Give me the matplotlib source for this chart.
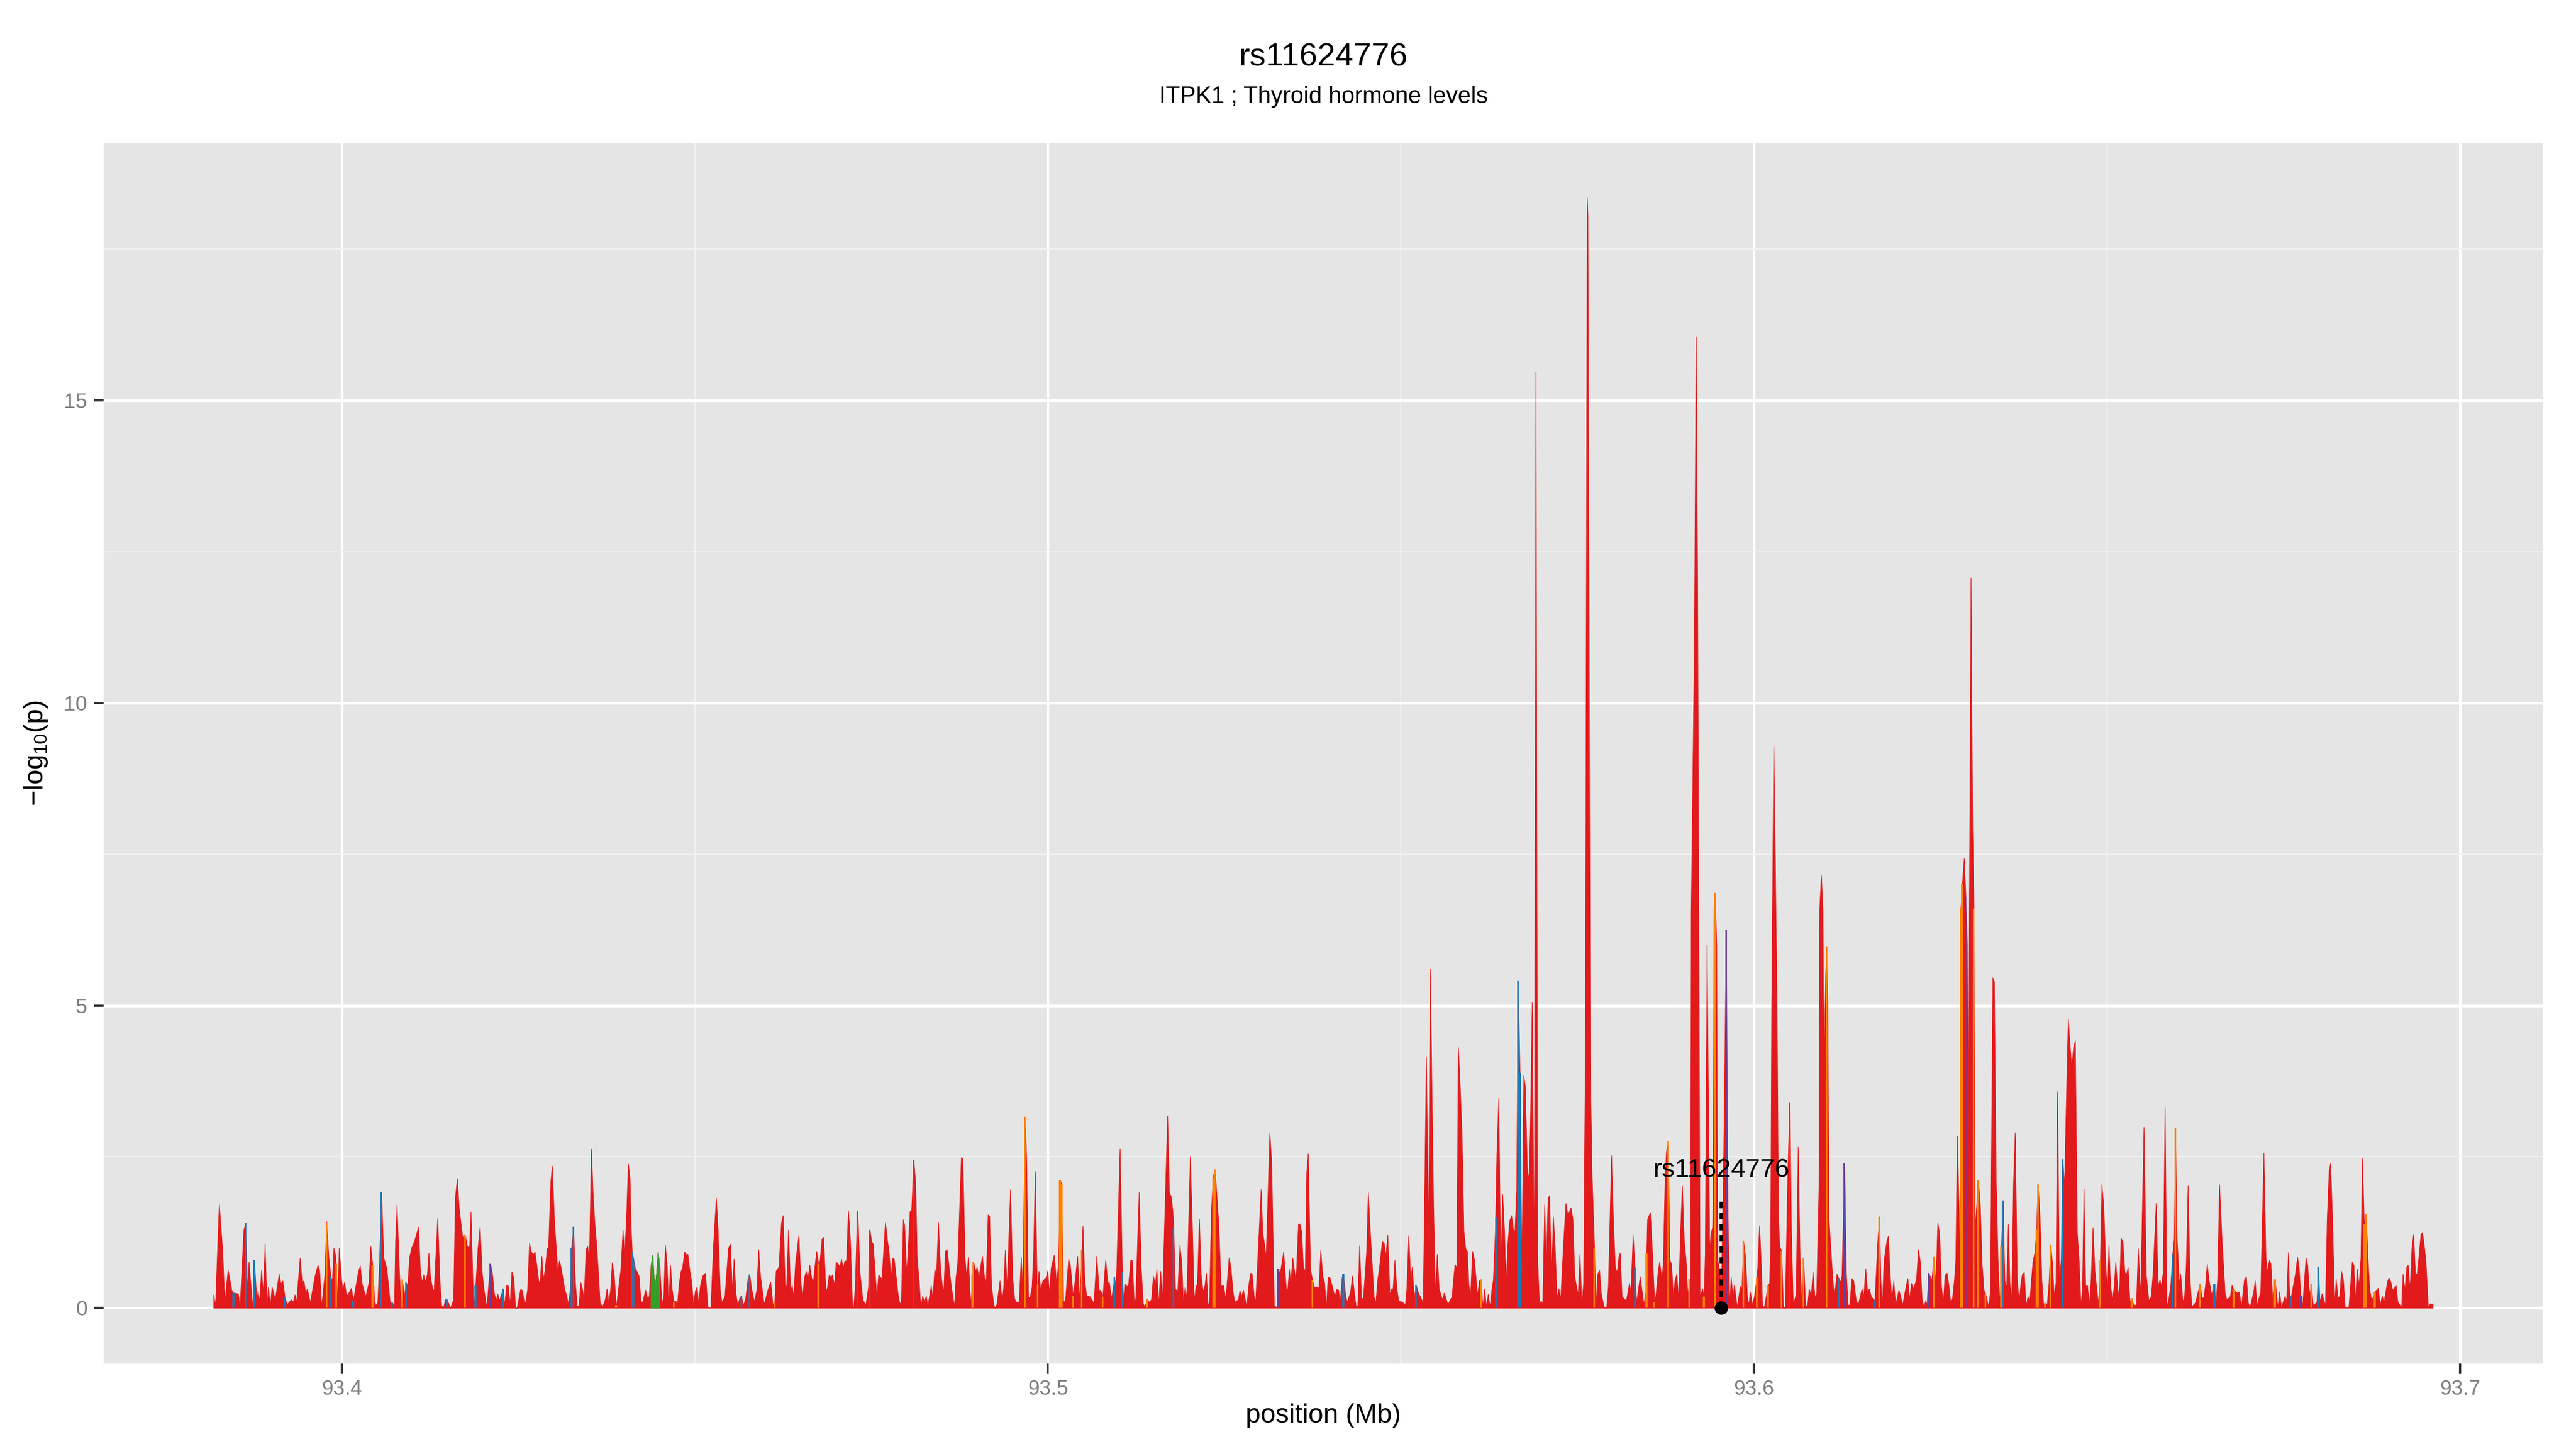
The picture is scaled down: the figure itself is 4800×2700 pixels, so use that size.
import numpy as np
import matplotlib.pyplot as plt

plt.rcParams['font.family'] = ['Liberation Sans', 'DejaVu Sans']
plt.rcParams['mathtext.default'] = 'regular'

# (position in Mb, -log10 p), left to right
red_a = [(93.38182,0.22),(93.38208,0.04),(93.38261,1.72),(93.38308,0.96),(93.38339,0.10),(93.38386,0.63),(93.38439,0.29),(93.38465,0.25),(93.38530,0.24),(93.38556,0.02),(93.38609,1.29),(93.38635,1.40),(93.38661,0.29),(93.38682,0.76),(93.38735,0.00),(93.38758,0.79),(93.38792,0.14),(93.38810,0.29),(93.38831,0.10),(93.38860,0.63),(93.38884,0.24),(93.38910,1.06),(93.38936,0.02),(93.38957,0.35),(93.38983,0.02),(93.39009,0.35),(93.39054,0.14),(93.39109,0.56),(93.39135,0.40),(93.39161,0.45),(93.39193,0.17),(93.39224,0.06),(93.39282,0.14),(93.39308,0.10),(93.39334,0.22),(93.39355,0.09),(93.39407,0.83),(93.39434,0.43),(93.39460,0.45),(93.39486,0.24),(93.39507,0.32),(93.39551,0.09),(93.39617,0.53),(93.39659,0.71),(93.39682,0.63),(93.39711,0.02),(93.39758,0.56),(93.39782,1.43),(93.39813,0.83),(93.39842,0.53),(93.39863,0.43),(93.39884,0.99),(93.39905,0.89),(93.39918,0.73),(93.39936,0.04),(93.39960,0.99),(93.39989,0.53),(93.40009,0.30),(93.40036,0.43),(93.40062,0.22),(93.40083,0.22),(93.40133,0.33),(93.40161,0.12),(93.40232,0.60),(93.40258,0.70),(93.40284,0.40),(93.40337,0.19),(93.40381,0.42),(93.40407,1.02),(93.40434,0.71),(93.40460,0.12),(93.40481,0.04),(93.40507,0.10),(93.40533,0.83),(93.40559,1.91),(93.40591,0.83),(93.40633,0.66),(93.40664,0.30),(93.40685,0.06),(93.40711,0.10),(93.40743,0.02),(93.40758,1.12),(93.40779,1.70),(93.40811,0.63),(93.40837,0.02),(93.40855,0.47),(93.40881,0.19),(93.40910,0.42),(93.40931,0.37),(93.40957,0.84),(93.40986,0.99),(93.41030,1.12),(93.41083,1.34),(93.41109,0.61),(93.41135,0.42),(93.41156,0.55),(93.41182,0.43),(93.41209,0.56),(93.41230,0.91),(93.41253,0.50),(93.41287,0.30),(93.41305,0.30),(93.41355,1.48),(93.41387,0.43),(93.41410,0.04),(93.41436,0.00),(93.41463,0.14),(93.41489,0.14),(93.41536,0.00),(93.41580,0.14),(93.41606,1.84),(93.41633,2.14),(93.41659,1.65),(93.41685,1.39),(93.41711,1.16),(93.41743,1.22),(93.41777,1.01),(93.41806,1.01),(93.41826,1.59),(93.41863,0.02),(93.41894,0.37),(93.41926,0.99),(93.41955,1.34),(93.41986,0.56),(93.42012,0.30),(93.42051,0.00),(93.42078,0.40),(93.42104,0.73),(93.42130,0.56)]

red_b = [(93.42157,0.24),(93.42183,0.12),(93.42204,0.24),(93.42230,0.12),(93.42283,0.32),(93.42301,0.04),(93.42332,0.38),(93.42353,0.37),(93.42380,0.06),(93.42406,0.60),(93.42432,0.50),(93.42458,0.00),(93.42479,0.00),(93.42531,0.32),(93.42555,0.29),(93.42581,0.09),(93.42602,0.10),(93.42628,0.30),(93.42655,1.07),(93.42681,0.93),(93.42707,0.88),(93.42733,0.93),(93.42759,0.70),(93.42785,0.45),(93.42804,0.40),(93.42830,0.86),(93.42851,0.47),(93.42877,0.63),(93.42906,0.99),(93.42924,0.96),(93.42956,2.07),(93.42977,2.35),(93.43008,1.45),(93.43034,0.99),(93.43055,0.61),(93.43079,0.78),(93.43105,0.66),(93.43152,0.32),(93.43178,0.22),(93.43204,0.07),(93.43230,0.27),(93.43251,0.99),(93.43280,1.34),(93.43304,0.43),(93.43330,0.04),(93.43354,0.02),(93.43382,0.42),(93.43408,0.30),(93.43429,0.14),(93.43456,0.97),(93.43479,1.02),(93.43503,0.76),(93.43532,2.63),(93.43555,1.91),(93.43579,1.42),(93.43605,1.06),(93.43628,0.63),(93.43655,0.09),(93.43689,0.02),(93.43728,0.14),(93.43754,0.32),(93.43780,0.09),(93.43806,0.33),(93.43827,0.75),(93.43854,0.56),(93.43885,0.00),(93.43932,0.48),(93.43950,0.65),(93.43979,1.29),(93.44003,0.88),(93.44029,1.48),(93.44055,2.38),(93.44079,2.14),(93.44094,1.32),(93.44110,0.93),(93.44134,0.79),(93.44155,0.65),(93.44181,0.60),(93.44207,0.53),(93.44233,0.12),(93.44257,0.09),(93.44299,0.30),(93.44330,0.15),(93.44351,0.20),(93.44377,0.70),(93.44401,0.88),(93.44430,0.29),(93.44456,0.58),(93.44477,0.93),(93.44500,0.70),(93.44526,0.17),(93.44553,0.04),(93.44579,1.04),(93.44605,0.70),(93.44626,0.00),(93.44652,0.71),(93.44676,0.30),(93.44702,0.10),(93.44728,0.12),(93.44749,0.04),(93.44775,0.40),(93.44802,0.61),(93.44822,0.66),(93.44854,0.93),(93.44880,0.88),(93.44898,0.89),(93.44927,0.61),(93.44953,0.43),(93.44979,0.04),(93.45005,0.29),(93.45029,0.35),(93.45050,0.07),(93.45076,0.37),(93.45108,0.53),(93.45147,0.58),(93.45181,0.02),(93.45225,0.00),(93.45259,0.99),(93.45301,1.82),(93.45325,1.32),(93.45356,0.30),(93.45382,0.09),(93.45424,0.20),(93.45474,0.99),(93.45500,1.06),(93.45529,0.27),(93.45553,0.81),(93.45579,0.24),(93.45605,0.04),(93.45634,0.17),(93.45657,0.20),(93.45686,0.04),(93.45718,0.17),(93.45749,0.48),(93.45775,0.55),(93.45801,0.32),(93.45841,0.10),(93.45875,0.30),(93.45901,0.97),(93.45927,0.52),(93.45979,0.06),(93.46032,0.30),(93.46071,0.43)]

red_c = [(93.46104,0.04),(93.46130,0.10),(93.46148,0.61),(93.46188,0.68),(93.46224,1.41),(93.46248,1.53),(93.46277,0.33),(93.46298,0.38),(93.46324,1.30),(93.46353,0.27),(93.46376,0.38),(93.46397,0.17),(93.46423,0.74),(93.46470,1.20),(93.46502,0.38),(93.46525,0.20),(93.46549,0.50),(93.46575,0.61),(93.46599,0.48),(93.46625,0.71),(93.46651,0.50),(93.46675,0.43),(93.46722,0.94),(93.46750,0.73),(93.46771,0.79),(93.46798,1.14),(93.46821,1.17),(93.46853,0.27),(93.46874,0.33),(93.46900,0.55),(93.46926,0.51),(93.46947,0.55),(93.46973,0.37),(93.46999,0.76),(93.47025,0.73),(93.47052,0.68),(93.47073,0.81),(93.47099,0.66),(93.47122,0.78),(93.47146,0.78),(93.47172,1.61),(93.47201,1.09),(93.47230,0.01),(93.47248,0.02),(93.47269,0.33),(93.47300,1.60),(93.47313,1.35),(93.47334,0.60),(93.47376,0.14),(93.47418,0.04),(93.47457,0.35),(93.47476,1.30),(93.47502,1.10),(93.47523,1.06),(93.47575,0.17),(93.47601,0.55),(93.47648,0.48),(93.47696,1.42),(93.47727,1.10),(93.47748,0.93),(93.47774,0.50),(93.47800,0.83),(93.47821,0.81),(93.47874,0.24),(93.47897,0.09),(93.47921,0.07),(93.47950,1.46),(93.47968,1.37),(93.47999,0.56),(93.48046,1.60),(93.48067,1.59),(93.48099,2.44),(93.48125,2.06),(93.48146,0.83),(93.48172,0.47),(93.48198,0.01),(93.48224,0.20),(93.48248,0.10),(93.48274,0.20),(93.48298,0.04),(93.48345,0.37),(93.48368,0.15),(93.48395,0.64),(93.48421,0.56),(93.48447,1.42),(93.48476,0.66),(93.48502,0.37),(93.48523,0.27),(93.48546,0.94),(93.48570,0.97),(93.48628,0.37),(93.48675,0.02),(93.48696,0.50),(93.48722,0.76),(93.48772,2.49),(93.48793,2.47),(93.48824,0.83),(93.48848,0.47),(93.48871,0.84),(93.48905,0.02),(93.48923,0.38),(93.48944,0.76),(93.48976,0.61),(93.48994,0.68),(93.49020,0.50),(93.49070,0.86),(93.49101,0.48),(93.49125,0.46),(93.49151,1.54),(93.49172,1.52),(93.49198,0.38),(93.49230,0.06),(93.49251,0.00),(93.49277,0.07),(93.49319,0.45),(93.49350,0.12),(93.49371,0.33),(93.49395,0.96),(93.49421,0.33),(93.49468,1.96),(93.49499,0.50),(93.49526,0.15),(93.49552,0.10),(93.49591,0.10),(93.49620,0.84),(93.49643,0.30),(93.49675,3.16),(93.49696,2.47),(93.49722,0.17),(93.49748,0.19),(93.49774,0.35),(93.49795,0.91),(93.49819,2.26),(93.49845,0.37),(93.49858,0.40),(93.49871,0.61),(93.49895,0.30),(93.49926,0.45),(93.49971,0.50),(93.49997,0.62),(93.50018,0.23),(93.50044,0.66)]

red_d = [(93.50088,0.88),(93.50120,0.42),(93.50146,0.70),(93.50172,2.11),(93.50193,2.06),(93.50219,0.12),(93.50245,0.10),(93.50292,0.81),(93.50316,0.70),(93.50355,0.20),(93.50389,0.50),(93.50418,0.86),(93.50447,0.12),(93.50481,0.96),(93.50494,1.35),(93.50520,0.46),(93.50546,0.20),(93.50594,0.19),(93.50651,0.08),(93.50690,0.86),(93.50722,0.29),(93.50743,0.30),(93.50777,0.19),(93.50816,0.79),(93.50847,0.42),(93.50868,0.42),(93.50900,0.15),(93.50944,0.51),(93.50965,0.30),(93.51020,2.63),(93.51052,0.60),(93.51073,0.04),(93.51096,0.40),(93.51120,0.35),(93.51141,0.40),(93.51172,0.80),(93.51193,0.79),(93.51222,0.04),(93.51243,0.17),(93.51290,1.91),(93.51319,0.66),(93.51348,0.07),(93.51371,0.02),(93.51405,0.14),(93.51434,0.10),(93.51465,0.14),(93.51492,0.53),(93.51518,0.38),(93.51541,0.64),(93.51567,0.04),(93.51594,0.61),(93.51620,0.12),(93.51693,3.17),(93.51719,1.91),(93.51745,1.84),(93.51769,1.58),(93.51780,1.32),(93.51803,0.32),(93.51837,0.27),(93.51868,1.04),(93.51895,0.73),(93.51916,0.10),(93.51942,0.35),(93.51965,0.15),(93.52015,2.51),(93.52047,1.20),(93.52070,0.09),(93.52091,0.32),(93.52117,0.42),(93.52143,1.47),(93.52167,0.56),(93.52196,0.27),(93.52222,0.37),(93.52243,0.58),(93.52266,0.04),(93.52287,0.10),(93.52314,1.61),(93.52340,2.17),(93.52366,2.29),(93.52392,1.84),(93.52418,1.38),(93.52450,0.37),(93.52486,0.37),(93.52518,0.14),(93.52565,0.83),(93.52591,0.66),(93.52617,0.30),(93.52643,0.10),(93.52696,0.14),(93.52717,0.29),(93.52743,0.19),(93.52766,0.30),(93.52814,0.02),(93.52845,0.40),(93.52871,0.58),(93.52890,0.56),(93.52921,0.17),(93.52942,0.12),(93.53018,1.96),(93.53041,1.24),(93.53062,1.09),(93.53089,0.83),(93.53141,2.89),(93.53167,2.42),(93.53204,0.04),(93.53243,0.01),(93.53264,0.65),(93.53287,0.56),(93.53337,0.93),(93.53374,0.32),(93.53395,0.30),(93.53418,0.64),(93.53439,0.40),(93.53465,0.83),(93.53513,0.43),(93.53547,1.39),(93.53565,1.39),(93.53591,1.27),(93.53617,0.68),(93.53644,0.60),(93.53664,2.24),(93.53685,2.55),(93.53717,0.63),(93.53748,0.46),(93.53769,0.35),(93.53806,0.35),(93.53837,0.33),(93.53863,0.96),(93.53890,0.53),(93.53916,0.43),(93.53942,0.00),(93.53968,0.51),(93.53994,0.50)]

red_e = [(93.54036,0.31),(93.54062,0.19),(93.54088,0.31),(93.54115,0.30),(93.54136,0.08),(93.54167,0.52),(93.54185,0.56),(93.54217,0.19),(93.54238,0.10),(93.54285,0.27),(93.54311,0.53),(93.54337,0.27),(93.54363,0.03),(93.54387,0.03),(93.54413,1.03),(93.54439,0.16),(93.54465,0.16),(93.54486,0.47),(93.54513,0.94),(93.54536,1.91),(93.54565,1.24),(93.54591,0.72),(93.54617,0.19),(93.54643,0.08),(93.54670,0.47),(93.54696,0.69),(93.54735,1.10),(93.54761,1.07),(93.54785,0.85),(93.54811,1.21),(93.54842,0.21),(93.54866,0.32),(93.54887,0.32),(93.54913,0.79),(93.54939,0.34),(93.54965,0.12),(93.55018,0.10),(93.55062,0.06),(93.55083,0.34),(93.55109,1.20),(93.55138,0.46),(93.55159,0.68),(93.55188,0.16),(93.55214,0.38),(93.55246,0.25),(93.55272,0.19),(93.55314,0.09),(93.55337,2.13),(93.55358,4.16),(93.55390,1.09),(93.55413,5.61),(93.55429,4.33),(93.55460,1.69),(93.55486,0.21),(93.55513,0.89),(93.55539,0.32),(93.55586,0.14),(93.55612,0.25),(93.55664,0.06),(93.55722,0.19),(93.55764,0.72),(93.55790,0.67),(93.55811,4.31),(93.55837,3.67),(93.55863,2.88),(93.55890,1.27),(93.55916,0.98),(93.55939,0.94),(93.55960,0.38),(93.55984,0.19),(93.56013,0.94),(93.56039,0.80),(93.56083,0.21),(93.56110,0.45),(93.56136,0.47),(93.56157,0.00),(93.56183,0.32),(93.56209,0.02),(93.56235,0.23),(93.56261,0.02),(93.56288,0.32),(93.56308,0.47),(93.56335,1.24),(93.56358,2.57),(93.56384,3.47),(93.56411,0.58),(93.56439,1.88),(93.56466,1.24),(93.56486,0.38),(93.56513,1.07),(93.56539,1.44),(93.56565,1.53),(93.56591,1.31),(93.56612,1.24),(93.56638,1.95),(93.56659,5.40),(93.56685,3.89),(93.56712,0.52),(93.56738,3.84),(93.56759,3.67),(93.56790,2.26),(93.56811,2.13),(93.56832,3.01),(93.56858,5.05),(93.56887,0.41),(93.56911,15.47),(93.56934,0.80),(93.56960,0.08),(93.56987,0.12),(93.57007,0.05),(93.57034,1.71),(93.57057,0.69),(93.57083,1.82),(93.57104,1.86),(93.57131,0.45),(93.57157,1.51),(93.57183,0.98),(93.57209,0.16),(93.57235,0.32),(93.57261,0.14),(93.57303,1.09),(93.57335,1.73),(93.57361,1.55),(93.57387,1.60),(93.57408,1.66),(93.57434,1.47),(93.57460,0.52),(93.57508,0.21),(93.57534,0.89),(93.57560,0.05),(93.57586,0.41),(93.57602,2.92),(93.57610,4.00),(93.57637,18.35),(93.57646,18.06),(93.57680,4.00),(93.57706,2.17),(93.57740,1.00),(93.57759,0.01),(93.57785,0.56),(93.57811,0.63),(93.57837,0.23),(93.57877,0.02),(93.57911,0.00),(93.57937,0.36),(93.57958,1.40)]

red_f = [(93.57981,2.52),(93.58007,1.47),(93.58034,0.69),(93.58060,0.58),(93.58086,0.85),(93.58104,0.91),(93.58130,0.19),(93.58191,0.12),(93.58235,0.41),(93.58256,0.27),(93.58287,1.20),(93.58314,0.67),(93.58335,0.08),(93.58387,0.52),(93.58439,0.06),(93.58466,0.27),(93.58492,1.47),(93.58531,1.58),(93.58557,1.00),(93.58591,0.10),(93.58612,0.23),(93.58644,0.63),(93.58662,0.76),(93.58696,0.49),(93.58714,0.74),(93.58740,2.13),(93.58759,2.59),(93.58785,2.75),(93.58806,0.80),(93.58832,0.72),(93.58858,0.14),(93.58879,0.45),(93.58905,0.56),(93.58932,0.14),(93.58958,1.24),(93.58984,2.02),(93.59010,1.13),(93.59036,0.80),(93.59062,0.19),(93.59083,0.47),(93.59100,0.50),(93.59110,6.50),(93.59155,11.00),(93.59180,16.05),(93.59200,12.00),(93.59217,6.50),(93.59235,0.20),(93.59272,0.32),(93.59293,0.19),(93.59309,0.89),(93.59335,6.00),(93.59371,0.91),(93.59390,1.24),(93.59413,1.33),(93.59421,2.00),(93.59435,6.60),(93.59450,6.86),(93.59470,6.00),(93.59485,0.80),(93.59513,0.60),(93.59539,0.40),(93.59570,2.50),(93.59607,6.25),(93.59631,1.50),(93.59657,0.01),(93.59675,0.52),(93.59701,0.19),(93.59722,0.38),(93.59761,0.01),(93.59806,0.36),(93.59827,0.30),(93.59853,1.11),(93.59879,0.85),(93.59905,0.19),(93.59926,0.05),(93.59947,0.27),(93.59979,0.05),(93.60005,0.19),(93.60031,0.41),(93.60052,0.67),(93.60078,1.36),(93.60104,0.67),(93.60120,0.03),(93.60149,0.02),(93.60199,0.38),(93.60220,0.41),(93.60235,1.00),(93.60250,5.00),(93.60280,9.30),(93.60295,8.00),(93.60325,5.00),(93.60345,1.50),(93.60364,1.02),(93.60390,0.94),(93.60416,0.01),(93.60442,0.01),(93.60481,2.35),(93.60508,3.39),(93.60529,1.24),(93.60555,0.05),(93.60597,0.23),(93.60625,2.66),(93.60652,0.80),(93.60678,0.05),(93.60701,0.83),(93.60730,0.05),(93.60756,0.01),(93.60782,0.32),(93.60809,0.19),(93.60835,0.60),(93.60861,0.19),(93.60887,0.23),(93.60920,2.00),(93.60930,6.60),(93.60953,7.15),(93.60975,6.60),(93.60990,4.00),(93.61015,5.50),(93.61028,5.98),(93.61045,5.00),(93.61060,1.50),(93.61097,0.80),(93.61123,0.36),(93.61141,0.23),(93.61175,0.56),(93.61201,0.49),(93.61227,0.43),(93.61246,0.54),(93.61283,2.39),(93.61306,0.58),(93.61332,0.05),(93.61358,0.05),(93.61384,0.49),(93.61411,0.45),(93.61445,0.14),(93.61476,0.05),(93.61529,0.32),(93.61555,0.19),(93.61581,0.65),(93.61607,0.27),(93.61633,0.32),(93.61659,0.19),(93.61712,0.12),(93.61751,1.07),(93.61777,1.51),(93.61796,0.45),(93.61817,0.05),(93.61843,0.80),(93.61882,1.11)]

red_g = [(93.61903,1.19),(93.61926,0.58),(93.61952,0.12),(93.61979,0.45),(93.62005,0.05),(93.62052,0.30),(93.62078,0.19),(93.62104,0.05),(93.62157,0.38),(93.62178,0.49),(93.62201,0.14),(93.62230,0.41),(93.62256,0.32),(93.62301,0.47),(93.62329,0.97),(93.62353,0.78),(93.62379,0.16),(93.62405,0.02),(93.62432,0.12),(93.62450,0.05),(93.62476,0.58),(93.62518,0.45),(93.62549,0.85),(93.62576,0.36),(93.62602,1.41),(93.62628,1.24),(93.62654,0.36),(93.62680,0.08),(93.62706,0.54),(93.62733,0.58),(93.62759,0.38),(93.62785,0.08),(93.62811,0.16),(93.62837,0.45),(93.62858,0.80),(93.62879,2.84),(93.62905,1.55),(93.62920,0.30),(93.62930,6.60),(93.62950,7.00),(93.62977,7.43),(93.63000,6.80),(93.63020,6.00),(93.63034,2.08),(93.63050,6.60),(93.63073,12.07),(93.63095,8.00),(93.63115,6.60),(93.63130,1.29),(93.63178,2.11),(93.63204,1.69),(93.63230,0.72),(93.63256,0.30),(93.63282,0.23),(93.63324,0.01),(93.63348,0.27),(93.63382,5.46),(93.63403,5.39),(93.63429,2.13),(93.63455,0.80),(93.63481,0.01),(93.63505,1.02),(93.63526,1.78),(93.63552,0.45),(93.63576,0.32),(93.63602,1.38),(93.63623,0.41),(93.63649,0.12),(93.63675,2.08),(93.63699,2.90),(93.63728,0.49),(93.63754,0.08),(93.63780,0.41),(93.63801,0.56),(93.63827,0.59),(93.63853,0.02),(93.63879,0.19),(93.63906,0.12),(93.63950,0.76),(93.63976,0.91),(93.64002,1.31),(93.64023,2.04),(93.64050,1.51),(93.64076,0.45),(93.64102,0.05),(93.64128,0.08),(93.64152,0.05),(93.64178,0.41),(93.64201,1.05),(93.64225,0.76),(93.64251,0.19),(93.64277,0.41),(93.64298,3.58),(93.64324,0.45),(93.64351,0.80),(93.64374,2.46),(93.64398,2.00),(93.64424,3.45),(93.64450,4.78),(93.64476,4.33),(93.64500,3.98),(93.64526,4.31),(93.64550,4.42),(93.64578,1.24),(93.64605,0.76),(93.64631,0.01),(93.64652,0.34),(93.64673,1.97),(93.64696,0.36),(93.64722,0.38),(93.64749,0.05),(93.64775,0.49),(93.64801,1.33),(93.64827,0.63),(93.64853,0.32),(93.64879,0.05),(93.64906,0.80),(93.64927,2.04),(93.64953,1.69),(93.64979,0.80),(93.65005,0.19),(93.65026,1.05),(93.65050,0.36),(93.65076,0.14),(93.65102,0.36),(93.65123,0.76),(93.65149,0.36),(93.65173,0.12),(93.65199,1.16),(93.65225,1.09),(93.65251,0.60),(93.65272,0.54),(93.65298,0.67),(93.65324,0.10),(93.65351,0.16),(93.65377,0.05),(93.65416,0.05),(93.65442,0.98),(93.65476,0.19),(93.65523,2.99),(93.65555,0.54),(93.65592,0.12),(93.65626,0.19),(93.65652,0.58),(93.65696,1.73),(93.65722,0.36),(93.65749,0.47),(93.65770,0.36),(93.65796,0.60),(93.65822,3.32),(93.65848,0.01)]

red_h = [(93.65878,0.17),(93.65904,0.40),(93.65931,0.89),(93.65952,1.16),(93.65970,2.98),(93.65991,1.16),(93.66025,0.38),(93.66043,0.56),(93.66075,0.09),(93.66098,0.19),(93.66122,0.70),(93.66148,2.02),(93.66174,0.50),(93.66200,0.02),(93.66253,0.09),(93.66297,0.30),(93.66318,0.40),(93.66344,0.17),(93.66371,0.17),(93.66397,0.40),(93.66418,0.73),(93.66444,0.47),(93.66475,0.25),(93.66496,0.24),(93.66522,0.40),(93.66543,0.04),(93.66567,0.50),(93.66593,2.04),(93.66627,1.16),(93.66672,0.24),(93.66698,0.14),(93.66745,0.19),(93.66771,0.38),(93.66795,0.30),(93.66847,0.25),(93.66873,0.27),(93.66902,0.01),(93.66946,0.47),(93.66973,0.52),(93.66999,0.09),(93.67025,0.01),(93.67077,0.27),(93.67098,0.45),(93.67124,0.04),(93.67177,0.27),(93.67221,2.56),(93.67250,0.83),(93.67274,0.60),(93.67300,0.79),(93.67321,0.73),(93.67347,0.10),(93.67381,0.47),(93.67418,0.01),(93.67444,0.27),(93.67470,0.01),(93.67522,0.20),(93.67543,0.10),(93.67569,0.92),(93.67590,0.04),(93.67611,0.20),(93.67666,0.55),(93.67698,0.84),(93.67721,0.66),(93.67745,0.20),(93.67771,0.04),(93.67818,0.83),(93.67842,0.71),(93.67868,0.20),(93.67894,0.40),(93.67920,0.04),(93.67973,0.10),(93.67994,0.68),(93.68015,0.10),(93.68046,0.24),(93.68093,0.04),(93.68119,1.48),(93.68146,2.27),(93.68166,2.39),(93.68193,1.48),(93.68224,0.04),(93.68245,0.48),(93.68271,0.17),(93.68297,0.20),(93.68321,0.61),(93.68347,0.47),(93.68373,0.01),(93.68426,0.02),(93.68473,0.76),(93.68496,0.71),(93.68517,0.09),(93.68543,0.65),(93.68570,0.37),(93.68596,0.83),(93.68617,2.47),(93.68643,1.39),(93.68669,1.55),(93.68695,0.83),(93.68721,0.30),(93.68748,0.12),(93.68795,0.27),(93.68842,0.33),(93.68868,0.04),(93.68897,0.20),(93.68923,0.10),(93.68975,0.45),(93.68994,0.50),(93.69020,0.43),(93.69046,0.29),(93.69093,0.38),(93.69119,0.10),(93.69172,0.01),(93.69193,0.56),(93.69219,0.29),(93.69245,0.68),(93.69266,0.71),(93.69292,0.30),(93.69318,0.99),(93.69342,1.22),(93.69368,0.56),(93.69392,0.56),(93.69418,0.86),(93.69447,1.22),(93.69468,1.25),(93.69494,1.02),(93.69517,0.76),(93.69551,0.01),(93.69578,0.07),(93.69617,0.07)]

# SNPs in the other LD classes, drawn over the red profile
orange_snps = [(93.39782,1.40),(93.39918,0.73),(93.40434,0.71),(93.40855,0.47),(93.41743,1.22),(93.43885,0.05),(93.44702,0.10),(93.46130,0.10),(93.46750,0.73),(93.48930,0.55),(93.48944,0.76),(93.49675,3.16),(93.49858,0.40),(93.50172,2.11),(93.50193,2.06),(93.50355,0.20),(93.50481,0.96),(93.50777,0.19),(93.51405,0.14),(93.52340,2.17),(93.52366,2.29),(93.53748,0.46),(93.56136,0.47),(93.57740,1.00),(93.58480,0.90),(93.58591,0.10),(93.58785,2.75),(93.59083,0.47),(93.59293,0.19),(93.59450,6.86),(93.59853,1.11),(93.60040,0.50),(93.60199,0.38),(93.60390,0.94),(93.60701,0.83),(93.61028,5.98),(93.61777,1.51),(93.62549,0.85),(93.62930,6.60),(93.62950,7.00),(93.63115,6.60),(93.63178,2.11),(93.63282,0.23),(93.63505,1.02),(93.64002,1.31),(93.64023,2.04),(93.64128,0.08),(93.64201,1.05),(93.64906,0.80),(93.65351,0.16),(93.65970,2.98),(93.66318,0.40),(93.66795,0.30),(93.67381,0.47),(93.67894,0.40),(93.68643,1.39),(93.68669,1.55),(93.68795,0.27)]
blue_snps = [(93.38465,0.25),(93.38635,1.40),(93.38758,0.79),(93.39193,0.17),(93.39842,0.53),(93.40161,0.12),(93.40559,1.91),(93.40711,0.10),(93.40910,0.42),(93.41489,0.14),(93.41894,0.37),(93.42283,0.32),(93.43251,0.99),(93.43280,1.34),(93.44110,0.93),(93.44134,0.79),(93.45657,0.20),(93.45775,0.55),(93.47300,1.60),(93.47476,1.30),(93.48099,2.44),(93.50944,0.51),(93.51052,0.60),(93.51780,1.32),(93.54185,0.56),(93.55214,0.38),(93.56350,1.50),(93.56659,5.40),(93.56685,3.89),(93.58314,0.67),(93.60508,3.39),(93.61201,0.49),(93.61712,0.12),(93.63526,1.78),(93.64374,2.46),(93.65931,0.89),(93.66522,0.40),(93.67611,0.20),(93.67994,0.68)]
purple_snps = [(93.42104,0.73),(93.53264,0.65),(93.59570,2.50),(93.59607,6.25),(93.61283,2.39),(93.62476,0.58),(93.63000,6.80),(93.67745,0.20)]
green_snps = [(93.44377,0.70),(93.44401,0.88),(93.44430,0.29),(93.44456,0.58),(93.44477,0.93),(93.44500,0.70)]

lead_snp = 'rs11624776'
lead_pos = 93.59539

red_pos, red_logp = np.array(sorted(red_a + red_b + red_c + red_d + red_e + red_f + red_g + red_h)).T

fig = plt.figure(figsize=(16, 9), dpi=300)
ax = fig.add_axes([0.0402, 0.0589, 0.9471, 0.8426])
ax.set_facecolor('#E5E5E5')
for s in ax.spines.values():
    s.set_visible(False)

ax.fill_between(red_pos, red_logp, 0, facecolor='#E31A1C', edgecolor='#E31A1C', linewidth=0.3, zorder=2)

bar_w = 0.00025
for snps, col in [(orange_snps, '#FF7F00'), (blue_snps, '#1F78B4'), (purple_snps, '#6A3D9A')]:
    x, y = np.array(snps).T
    ax.bar(x, y, width=bar_w, color=col, linewidth=0, zorder=3)
gx, gy = np.array(green_snps).T
ax.fill_between(gx, gy, 0, facecolor='#33A02C', edgecolor='#33A02C', linewidth=0.3, zorder=3)

# lead SNP marker
ax.plot([lead_pos, lead_pos], [0, 1.82], color='black', lw=1.6, ls=(0, (1.8, 1.3)), zorder=4)
ax.plot(lead_pos, 0, 'o', color='black', ms=5, zorder=5)
ax.text(lead_pos, 2.28, lead_snp, ha='center', va='center', fontsize=11.7, zorder=5)

ax.set_xlim(93.36625, 93.71182)
ax.set_ylim(-0.92, 19.26)
ax.set_xticks([93.4, 93.5, 93.6, 93.7])
ax.set_xticklabels(['93.4', '93.5', '93.6', '93.7'])
ax.set_xticks([93.45, 93.55, 93.65], minor=True)
ax.set_yticks([0, 5, 10, 15])
ax.set_yticks([2.5, 7.5, 12.5, 17.5], minor=True)
ax.grid(which='major', color='white', linewidth=1.15)
ax.grid(which='minor', color='#F2F2F2', linewidth=0.55)
ax.set_axisbelow(True)
ax.tick_params(which='major', length=4.3, width=1.0, color='#333333',
               labelcolor='#7F7F7F', labelsize=9.3, pad=3)
ax.tick_params(which='minor', length=0)

fig.text(0.5137, 0.0230, 'position (Mb)', ha='center', va='center', fontsize=12)
fig.text(0.0140, 0.480, '$-log_{10}(p)$', ha='center', va='center', rotation=90, fontsize=12)
fig.text(0.5137, 0.9605, 'rs11624776', ha='center', va='center', fontsize=14.5)
fig.text(0.5137, 0.9330, 'ITPK1 ; Thyroid hormone levels', ha='center', va='center', fontsize=10.5)

fig.savefig('out.png', dpi=300)
